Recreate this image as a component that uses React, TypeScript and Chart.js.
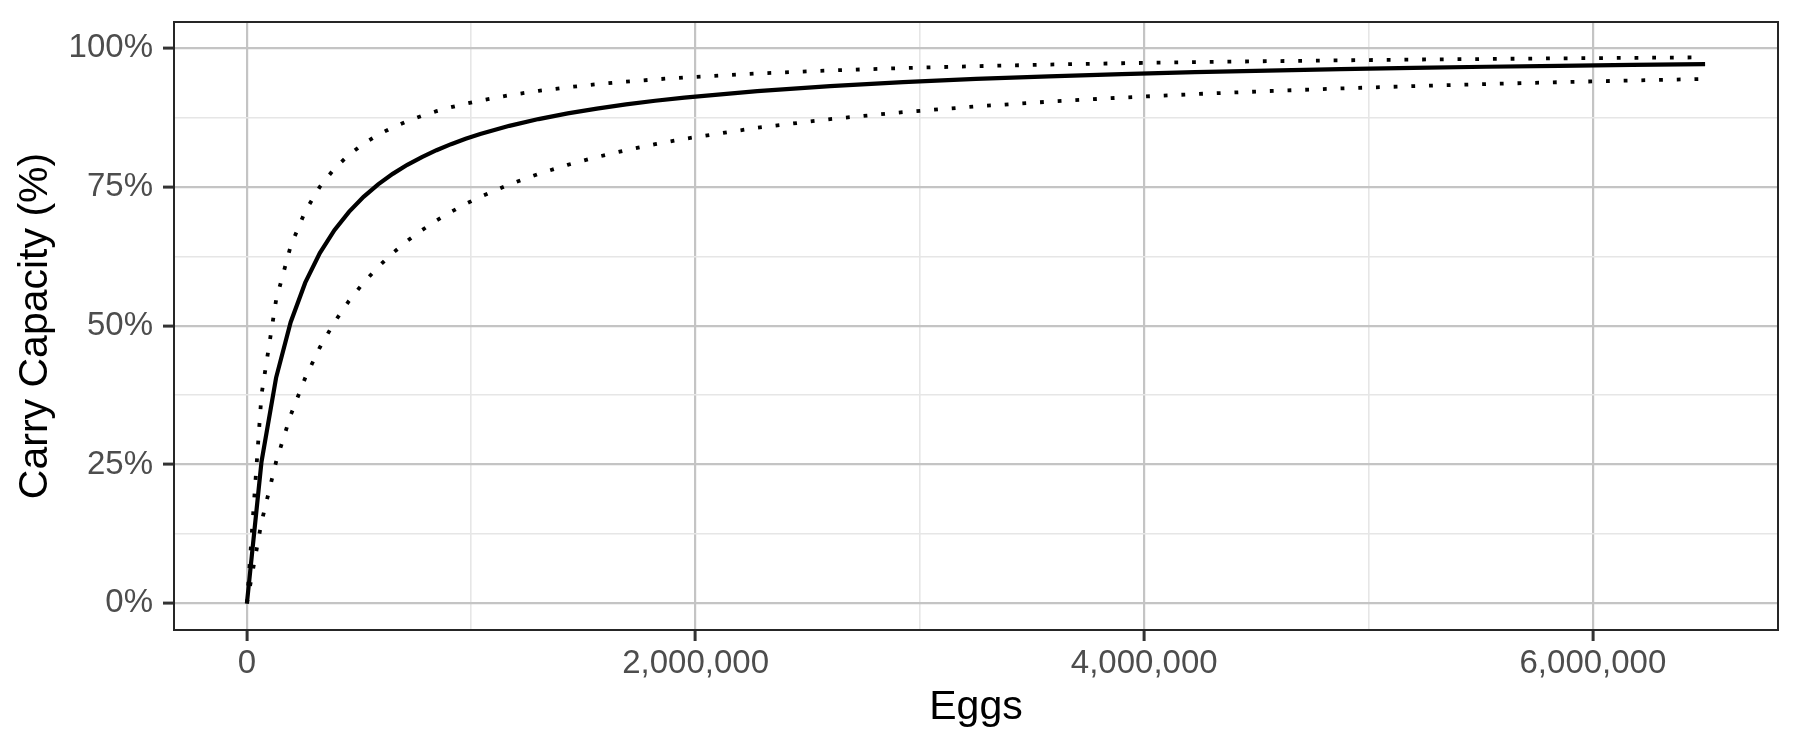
import React, { useEffect, useRef } from "react";
import { Chart, registerables } from "chart.js";

Chart.register(...registerables);

// Eggs (x values)
const eggs = [
  0, 65000, 130000, 195000, 260000, 325000, 390000, 455000, 520000, 585000,
  650000, 715000, 780000, 845000, 910000, 975000, 1040000, 1170000, 1300000,
  1430000, 1560000, 1690000, 1820000, 1950000, 2275000, 2600000, 2925000,
  3250000, 3575000, 3900000, 4225000, 4550000, 4875000, 5200000, 5525000,
  5850000, 6175000, 6500000,
];

// Carry capacity, central estimate (solid line)
const carryFit = [
  0, 0.2549, 0.4063, 0.5065, 0.5778, 0.6311, 0.6724, 0.7054, 0.7324, 0.7548,
  0.7738, 0.7901, 0.8041, 0.8164, 0.8273, 0.8369, 0.8455, 0.8603, 0.8725,
  0.8827, 0.8914, 0.8989, 0.9055, 0.9112, 0.9229, 0.9319, 0.939, 0.9448,
  0.9495, 0.9535, 0.957, 0.9599, 0.9625, 0.9647, 0.9668, 0.9685, 0.9701, 0.9716,
];

// Upper bound (dotted)
const carryUpper = [
  0, 0.3757, 0.5462, 0.6436, 0.7065, 0.7506, 0.7831, 0.8082, 0.828, 0.8442,
  0.8575, 0.8688, 0.8784, 0.8867, 0.8939, 0.9003, 0.9059, 0.9155, 0.9233,
  0.9298, 0.9353, 0.9399, 0.944, 0.9475, 0.9547, 0.9601, 0.9644, 0.9678,
  0.9707, 0.9731, 0.9751, 0.9768, 0.9783, 0.9797, 0.9808, 0.9819, 0.9828, 0.9837,
];

// Lower bound (dotted)
const carryLower = [
  0, 0.1461, 0.2549, 0.3391, 0.4063, 0.461, 0.5065, 0.5449, 0.5778, 0.6062,
  0.6311, 0.653, 0.6724, 0.6898, 0.7054, 0.7196, 0.7324, 0.7548, 0.7738,
  0.7901, 0.8041, 0.8164, 0.8273, 0.8369, 0.8569, 0.8725, 0.885, 0.8953,
  0.9039, 0.9112, 0.9175, 0.9229, 0.9277, 0.9319, 0.9356, 0.939, 0.942, 0.9448,
];

const xTickValues = [0, 1000000, 2000000, 3000000, 4000000, 5000000, 6000000];
const xTickLabels = ["0", "", "2,000,000", "", "4,000,000", "", "6,000,000"];
const yTickValues = [0, 0.125, 0.25, 0.375, 0.5, 0.625, 0.75, 0.875, 1];
const yTickLabels = ["0%", "", "25%", "", "50%", "", "75%", "", "100%"];

const FONT = "'Liberation Sans', Arial, Helvetica, sans-serif";
const MAJOR = "#C4C4C4";
const MINOR = "#E6E6E6";

const panelBorder = {
  id: "panelBorder",
  afterDatasetsDraw(chart: any) {
    const { ctx, chartArea } = chart;
    ctx.save();
    ctx.strokeStyle = "#262626";
    ctx.lineWidth = 2;
    ctx.strokeRect(
      chartArea.left,
      chartArea.top,
      chartArea.right - chartArea.left,
      chartArea.bottom - chartArea.top
    );
    ctx.restore();
  },
};

export default function App() {
  const ref = useRef<HTMLCanvasElement | null>(null);

  useEffect(() => {
    if (!ref.current) return;
    const mk = (ys: number[]) => eggs.map((x, i) => ({ x, y: ys[i] }));
    const isMajorX = (v: number) => xTickLabels[xTickValues.indexOf(v)] !== "";
    const isMajorY = (v: number) => {
      const i = yTickValues.findIndex((t) => Math.abs(t - v) < 1e-9);
      return i >= 0 && yTickLabels[i] !== "";
    };
    const dotted = {
      borderColor: "#000",
      borderWidth: 3.8,
      borderDash: [3.8, 13.9],
      borderCapStyle: "butt",
      pointRadius: 0,
      tension: 0,
    };
    const chart = new Chart(ref.current, {
      type: "line",
      data: {
        datasets: [
          { label: "Upper", data: mk(carryUpper), ...dotted },
          { label: "Lower", data: mk(carryLower), ...dotted },
          {
            label: "Fit",
            data: mk(carryFit),
            borderColor: "#000",
            borderWidth: 4.2,
            pointRadius: 0,
            tension: 0,
          },
        ],
      },
      options: {
        animation: false,
        responsive: false,
        devicePixelRatio: 1,
        layout: { padding: { top: 22, right: 22, left: 0, bottom: 0 } },
        plugins: {
          legend: { display: false },
          tooltip: { enabled: false },
        },
        scales: {
          x: {
            type: "linear",
            min: -325000,
            max: 6825000,
            afterBuildTicks: (s: any) => {
              s.ticks = xTickValues.map((v) => ({ value: v }));
            },
            afterFit: (s: any) => {
              s.height = 120;
              s.paddingLeft = 0;
              s.paddingRight = 0;
              s.paddingTop = 0;
              s.paddingBottom = 0;
            },
            border: { display: false },
            grid: {
              color: (c: any) => (isMajorX(c.tick?.value) ? MAJOR : MINOR),
              lineWidth: (c: any) => (isMajorX(c.tick?.value) ? 2.2 : 1.6),
              tickColor: (c: any) =>
                isMajorX(c.tick?.value) ? "#333333" : "rgba(0,0,0,0)",
              tickLength: 11,
              tickWidth: 3,
            },
            ticks: {
              autoSkip: false,
              maxRotation: 0,
              padding: 3,
              color: "#4D4D4D",
              font: { family: FONT, size: 33 },
              callback: (v: any) => {
                const i = xTickValues.indexOf(Number(v));
                return i >= 0 ? xTickLabels[i] : "";
              },
            },
            title: {
              display: true,
              text: "Eggs",
              color: "#000",
              font: { family: FONT, size: 41 },
              padding: { top: 0, bottom: 18 },
            },
          },
          y: {
            type: "linear",
            min: -0.048,
            max: 1.0474,
            afterBuildTicks: (s: any) => {
              s.ticks = yTickValues.map((v) => ({ value: v }));
            },
            afterFit: (s: any) => {
              s.width = 174;
              s.paddingLeft = 0;
              s.paddingRight = 0;
              s.paddingTop = 0;
              s.paddingBottom = 0;
            },
            border: { display: false },
            grid: {
              color: (c: any) => (isMajorY(c.tick?.value) ? MAJOR : MINOR),
              lineWidth: (c: any) => (isMajorY(c.tick?.value) ? 2.2 : 1.6),
              tickColor: (c: any) =>
                isMajorY(c.tick?.value) ? "#333333" : "rgba(0,0,0,0)",
              tickLength: 11,
              tickWidth: 3,
            },
            ticks: {
              autoSkip: false,
              padding: 10,
              color: "#4D4D4D",
              font: { family: FONT, size: 33 },
              callback: (v: any) => {
                const i = yTickValues.findIndex(
                  (t) => Math.abs(t - Number(v)) < 1e-9
                );
                return i >= 0 ? yTickLabels[i] : "";
              },
            },
            title: {
              display: true,
              text: "Carry Capacity (%)",
              color: "#000",
              font: { family: FONT, size: 41 },
              padding: { top: 11, bottom: 0 },
            },
          },
        },
      },
      plugins: [panelBorder],
    } as any);
    return () => chart.destroy();
  }, []);

  return (
    <div
      style={{
        position: "absolute",
        left: 0,
        top: 0,
        width: 1800,
        height: 750,
        background: "#fff",
      }}
    >
      <canvas ref={ref} width={1800} height={750} style={{ display: "block" }} />
    </div>
  );
}
